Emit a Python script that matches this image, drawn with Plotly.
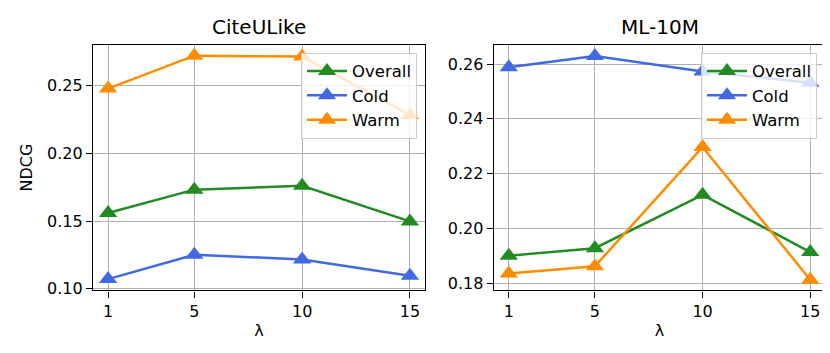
import plotly.graph_objects as go

# lambda values on the x axis
lambdas = [1, 5, 10, 15]

# CiteULike NDCG
cite_overall = [0.156, 0.1733, 0.1762, 0.1498]
cite_cold = [0.1072, 0.1252, 0.1217, 0.1096]
cite_warm = [0.248, 0.2723, 0.2716, 0.2285]

# ML-10M NDCG
ml_overall = [0.1901, 0.1928, 0.2123, 0.1914]
ml_cold = [0.2588, 0.2629, 0.2573, 0.2532]
ml_warm = [0.1836, 0.1862, 0.2297, 0.1813]

series_names = ["Overall", "Cold", "Warm"]
colors = ["#228B22", "#4169E1", "#FF8C00"]

FONT = "DejaVu Sans"
W, H = 830, 353

fig = go.Figure()

panels = [
    ("x", "y", "legend", [cite_overall, cite_cold, cite_warm]),
    ("x2", "y2", "legend2", [ml_overall, ml_cold, ml_warm]),
]
for xa, ya, leg, data in panels:
    for name, color, vals in zip(series_names, colors, data):
        fig.add_trace(go.Scatter(
            x=lambdas, y=vals, name=name, mode="lines+markers",
            line=dict(color=color, width=2.5),
            marker=dict(symbol="triangle-up", size=16, color=color),
            xaxis=xa, yaxis=ya, legend=leg,
        ))


def px_x(p):
    return p / W


def px_y(p):
    return 1 - p / H


axis_common = dict(
    showline=True, mirror=True, linecolor="black", linewidth=1.3,
    ticks="outside", ticklen=6, tickwidth=1.3, tickcolor="black",
    showgrid=True, gridcolor="#b0b0b0", gridwidth=1.2, zeroline=False,
    tickfont=dict(family=FONT, size=16, color="black"),
)

legend_common = dict(
    bgcolor="rgba(255,255,255,0.8)", bordercolor="#cccccc", borderwidth=1,
    font=dict(family=FONT, size=16.5, color="black"),
    xanchor="right", yanchor="top", tracegroupgap=0, itemwidth=40,
)

fig.update_layout(
    width=W, height=H,
    margin=dict(l=0, r=0, t=0, b=0),
    paper_bgcolor="white", plot_bgcolor="white",
    font=dict(family=FONT, color="black"),
    xaxis=dict(domain=[px_x(85), px_x(417)], range=[0.3, 15.7],
               tickvals=lambdas, anchor="y",
               title=dict(text="λ", font=dict(size=16), standoff=4),
               **axis_common),
    yaxis=dict(domain=[px_y(289), px_y(37.7)], range=[0.0988, 0.2803],
               tickvals=[0.10, 0.15, 0.20, 0.25], tickformat=".2f", anchor="x",
               title=dict(text="NDCG", font=dict(size=16), standoff=10),
               **axis_common),
    xaxis2=dict(domain=[px_x(485.7), px_x(817.3)], range=[0.3, 15.7],
                tickvals=lambdas, anchor="y2",
                title=dict(text="λ", font=dict(size=16), standoff=4),
                **axis_common),
    yaxis2=dict(domain=[px_y(289), px_y(37.7)], range=[0.1774, 0.2670],
                tickvals=[0.18, 0.20, 0.22, 0.24, 0.26], tickformat=".2f", anchor="x2",
                **axis_common),
    legend=dict(x=px_x(409), y=px_y(45.7), **legend_common),
    legend2=dict(x=px_x(809), y=px_y(45.7), **legend_common),
    annotations=[
        dict(text="CiteULike", x=px_x(251), y=px_y(19), xref="paper", yref="paper",
             showarrow=False, xanchor="center", yanchor="middle",
             font=dict(family=FONT, size=20, color="black")),
        dict(text="ML-10M", x=px_x(651.5), y=px_y(19), xref="paper", yref="paper",
             showarrow=False, xanchor="center", yanchor="middle",
             font=dict(family=FONT, size=20, color="black")),
    ],
)

fig.write_html("out.html")
